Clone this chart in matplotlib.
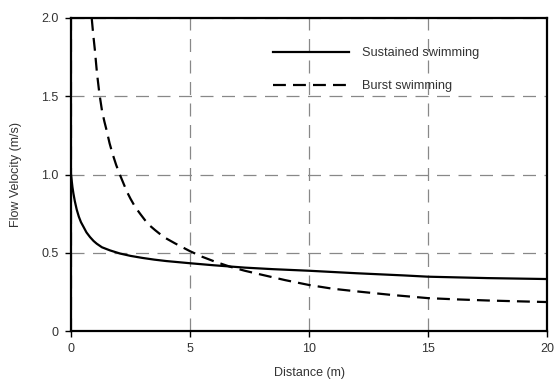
import matplotlib
matplotlib.use("Agg")
import matplotlib.pyplot as plt

plt.rcParams['font.family'] = ['Liberation Sans', 'DejaVu Sans']

sustained_x = [0, 0.015, 0.03, 0.06, 0.1, 0.16, 0.24, 0.33, 0.42, 0.52, 0.65, 0.8, 0.95, 1.08, 1.3, 1.64, 2.06, 2.5, 3, 3.5, 4, 5, 6, 7.3, 8.5, 10, 12, 14, 15, 17.5, 20]
sustained_y = [1.0, 0.98, 0.96, 0.92, 0.88, 0.83, 0.776, 0.73, 0.695, 0.667, 0.63, 0.6, 0.575, 0.558, 0.535, 0.515, 0.495, 0.48, 0.467, 0.456, 0.447, 0.433, 0.42, 0.405, 0.395, 0.385, 0.369, 0.355, 0.347, 0.338, 0.332]

burst_x = [0.87, 0.93, 1.0, 1.09, 1.19, 1.3, 1.4, 1.5, 1.62, 1.75, 1.9, 2.05, 2.2, 2.35, 2.5, 2.69, 2.9, 3.1, 3.3, 3.53, 3.9, 4.37, 5.0, 5.5, 6.05, 6.68, 7.3, 8.0, 9.0, 10.0, 11.0, 12.14, 13.5, 15.0, 16.2, 17.5, 18.7, 20.0]
burst_y = [2.0, 1.9, 1.8, 1.65, 1.52, 1.41, 1.34, 1.28, 1.2, 1.13, 1.06, 1.0, 0.945, 0.89, 0.845, 0.794, 0.75, 0.71, 0.675, 0.645, 0.6, 0.56, 0.51, 0.475, 0.443, 0.411, 0.385, 0.36, 0.325, 0.294, 0.27, 0.251, 0.23, 0.21, 0.202, 0.195, 0.19, 0.185]

x_ticks = [0, 5, 10, 15, 20]
y_ticks = [0, 0.5, 1.0, 1.5, 2.0]
y_tick_labels = ["0", "0.5", "1.0", "1.5", "2.0"]

fig = plt.figure(figsize=(5.54, 3.83), dpi=100)
ax = fig.add_axes([71/554, 1-331/383, 476/554, 313/383])

ax.plot(sustained_x, sustained_y, color='black', lw=1.6, label='Sustained swimming', zorder=3)
ax.plot(burst_x, burst_y, color='black', lw=1.6, dashes=(5.8, 3.2), label='Burst swimming', zorder=3)

ax.set_xlim(0, 20)
ax.set_ylim(0, 2.0)
ax.set_xticks(x_ticks)
ax.set_yticks(y_ticks)
ax.set_yticklabels(y_tick_labels)
ax.grid(True, color='#888888', lw=0.9, dashes=(10.4, 6.8))
for s in ax.spines.values():
    s.set_linewidth(1.6)
    s.set_color('black')
ax.tick_params(direction='out', length=4, width=1.0, labelsize=9, labelcolor='#333333', pad=5)

ax.set_xlabel('Distance (m)', fontsize=9, color='#333333', labelpad=8)
ax.set_ylabel('Flow Velocity (m/s)', fontsize=9, color='#333333', labelpad=14)

leg = ax.legend(loc='upper left', bbox_to_anchor=(0.424, 0.907), frameon=False, fontsize=9.2,
                handlelength=6.0, handletextpad=1.0, labelspacing=1.65, borderpad=0, borderaxespad=0)
for t in leg.get_texts():
    t.set_color('#333333')

fig.savefig('out.png', dpi=100)
